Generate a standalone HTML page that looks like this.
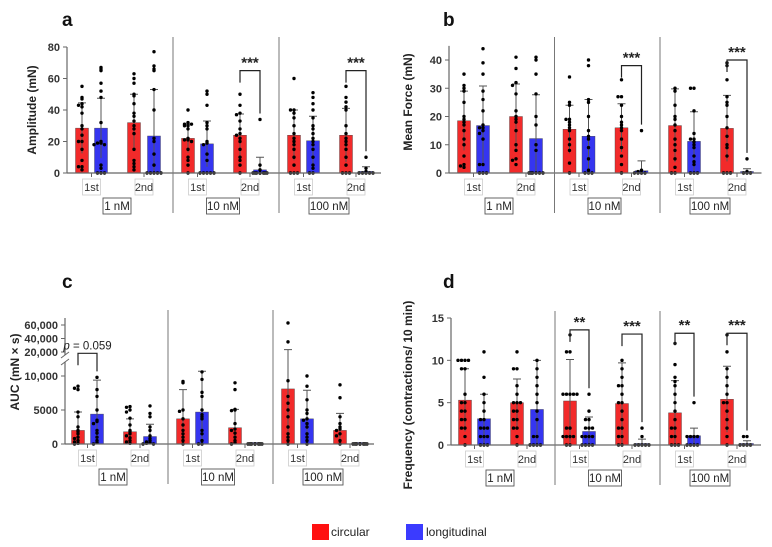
<!DOCTYPE html>
<html><head><meta charset="utf-8"><style>
html,body{margin:0;padding:0;background:#fff;}
svg{display:block;font-family:"Liberation Sans",Arial,sans-serif;}
</style></head><body>
<svg id="fig" width="772" height="547" viewBox="0 0 772 547" xmlns="http://www.w3.org/2000/svg">
<g id="legend">
<rect x="312" y="524" width="17" height="16" fill="#ff1010"/>
<text x="331" y="536" font-size="12" fill="#222">circular</text>
<rect x="406" y="524" width="17" height="16" fill="#3b3bff"/>
<text x="426" y="536" font-size="12" fill="#222">longitudinal</text>
</g>
</svg>
<script>
// ---- data (order: 1nM red1st, blue1st, red2nd, blue2nd, 10nM ..., 100nM ...) ----
const groups = ["1 nM","10 nM","100 nM"];
const sessions = ["1st","2nd"];
const aMeans = [28.5,28.5,32,23.5, 22,18.5,24,2, 24,20.5,24,1];
const aSD = [16,19,18,29.5, 9,14.5,13.5,8, 16,15.5,17,3];
const aPts = [
[55,48,47,44,43,42,38,30,28,24,20,20,15,8,4,4,2],
[67,66,65,57,52,48,32,20,19,19,18,18,5,3,0,0,0],
[63,60,57,50,49,44,38,36,33,30,28,25,15,8,6,4,2],
[77,68,66,65,53,40,22,20,12,5,0,0,0,0,0],
[40,32,31,31,30,30,28,22,21,21,20,15,10,8,5,0],
[52,50,43,32,30,28,20,19,18,12,8,0,0,0,0,0],
[50,43,38,37,33,28,25,24,22,20,15,10,8,5,0],
[34,5,2,0,0,0,0,0,0,0,0],
[60,40,40,38,35,30,25,22,20,18,15,10,5,0,0,0],
[51,48,44,40,35,30,28,25,22,20,18,15,10,5,3,0,0],
[55,48,45,42,40,30,25,22,20,18,15,10,5,0,0,0],
[10,3,1,0,0,0,0,0]];
const bMeans = [18.5,16.8,20,12.2, 15.5,13,16,0.8, 16.8,11.2,15.8,0.3];
const bSD = [10.5,14,11.5,15.5, 8.5,13,8.5,3.5, 13,10.5,11.7,1.2];
const bPts = [
[35,31,30,29,25,20,19,18,17,15,12,10,6,3,2.5,2],
[44,39,35,29,26,22,17,16,16,15,14,12,3,3,0,0,0],
[41,37,32,31,28,22,20,19,18,15,10,8,5,4.5,3],
[41,40,35,28,20,17,10,8,0,0,0,0,0,0],
[34,25,24,19,19,18,17,16,15,12,10,8,3.5,0],
[40,38,26,25,20,15,13,12,9,5,1,0,0,0],
[33,27,27,24,20,18,17,16,15,12,9,6,3,0],
[15,1,0.5,0,0,0,0],
[30,29,24,20,19,17,15,12,10,8,5,2,0,0],
[30,30,22,14,12,12,11,10,9,6,4,3,0,0,0],
[39,38,33,27,25,24,20,16,13,10,9,6,0,0,0],
[5,0.5,0,0,0]];
const cMeans = [2000,4400,1800,1100, 3700,4700,2400,0, 8100,3700,2000,0];
const cSD = [2700,5000,1900,1800, 4300,6000,2700,0, 15400,4200,2500,0];
const cPts = [
[8500,8200,8000,4700,4000,2500,2000,1800,1500,1000,800,500,300,100,0],
[9800,8000,7000,5000,3500,3300,3000,2000,1600,1000,500,200,0],
[5500,5400,5000,4700,3800,2800,2000,1800,1500,1200,900,500,300,100],
[5600,4500,4000,2500,2000,1200,800,500,300,200,100,0,0],
[9200,9000,5000,4800,3700,2800,2000,1500,1000,500,0],
[10600,9500,7600,7000,5000,4300,4000,3700,2000,1500,500,0,0],
[9000,8000,5100,5000,4900,3000,2200,2000,1600,1000,500,200,0],
[0,0,0,0,0,0,0,0],
[63000,35000,9300,7000,6000,5000,4000,2500,1500,1000,500,0],
[10000,8500,6500,5000,4500,3700,3500,3000,2500,1500,1000,500,0],
[8700,6800,4000,3000,2500,2200,2000,1500,1200,500,0],
[0,0,0,0,0,0,0,0]];
const dMeans = [5.3,3.1,5,4.2, 5.2,1.6,4.9,0.1, 3.8,1.1,5.4,0.1];
const dSD = [3.7,2.9,2.8,5.8, 4.9,1.7,4.8,0.6, 3.8,0.9,3.9,0.4];
const dPts = [
[10,10,10,10,9,9,6,5,5,4,4,3,3,2,2,1,0],
[11,8,6,5,4,3,3,2,2,2,1,1,1,0,0,0],
[11,9,9,7,6,5,5,5,4,4,3,3,2,2,1,0],
[10,9,8,7,6,5,4,3,1,1,0,0,0,0],
[13,11,11,6,6,6,6,6,2,2,1,1,1,1,0,0],
[6,4,3,3,2,2,2,1,1,1,1,0,0,0,0],
[10,9,8,7,7,6,5,5,4,3,2,2,1,1,0,0],
[2,1,0,0,0,0,0],
[12,9.5,8,7.5,7,6,5,4,3,2,2,1,1,0,0,0],
[5,1,1,1,1,0,0,0,0],
[13,11,9,8,7,6,5,5,4,3,2,1,0],
[1,1,0,0,0,0]];
const aTicks = [0,20,40,60,80];
const bTicks = [0,10,20,30,40];
const cTicksLow = [0,5000,10000];
const cTicksHigh = [20000,40000,60000];
const cTickLabels = ["0","5000","10,000","20,000","40,000","60,000"];
const dTicks = [0,5,10,15];
// significance: [bar index red, bar index blue, bracket value, label]
const aSig = [[6,7,65,"***"],[10,11,65,"***"]];
const bSig = [[6,7,38,"***"],[10,11,40,"***"]];
const cSig = [[0,1,19000,"p = 0.059"]];
const dSig = [[4,5,13.6,"**"],[6,7,13.1,"***"],[8,9,13.2,"**"],[10,11,13.2,"***"]];

const NS="http://www.w3.org/2000/svg";
const svg=document.getElementById('fig');
function mk(tag,attrs,parent){const e=document.createElementNS(NS,tag);for(const k in attrs)e.setAttribute(k,attrs[k]);(parent||svg).appendChild(e);return e;}
const barOff=[15,34,67,87];
const RED="#f22a2a", BLUE="#3535f0";

function panel(cfg){
  const g=mk('g',{});
  
  
  const Y=cfg.scale, x0=cfg.x0, gw=cfg.gw, base=Y(0);
  const lt=mk('text',{x:cfg.letterX,y:cfg.letterY,'font-size':19,'font-weight':'bold',fill:'#111'},g);
  lt.textContent=cfg.letter;
  
  
  // y title
  const yt=mk('text',{x:0,y:0,'font-size':12,'font-weight':'bold',fill:'#222','text-anchor':'middle',transform:`translate(${cfg.titleX},${cfg.titleY}) rotate(-90)`},g);
  yt.textContent=cfg.title;
  
  
  // bars
  for(let i=0;i<12;i++){
    const gi=Math.floor(i/4), k=i%4;
    const cx=x0+gi*gw+barOff[k];
    const col=(k%2==0)?RED:BLUE;
    const m=cfg.means[i], sd=cfg.sd[i];
    const yT=Y(m);
    const r=mk('rect',{x:cx-6.5,y:Math.min(yT,base-1.5),width:13,height:Math.max(base-yT,1.5),fill:col,stroke:'#444','stroke-width':0.4},g);
    
    
    if(sd>0){
      const yh=Y(m+sd), yl=Y(Math.max(0,m-sd));
      const eb=mk('path',{d:`M${cx},${yl}V${yh}M${cx-4},${yh}H${cx+4}`,stroke:'#555','stroke-width':1,fill:'none'},g);
      
      
    }
    const pts=cfg.pts[i];
    const counts={};
    pts.forEach((v,j)=>{
      const py=Y(v);
      const key=Math.round(py/3);
      const n=counts[key]||0; counts[key]=n+1;
      const off=[0,-3.5,3.5,-7,7,-5,5][n%7];
      const c=mk('circle',{cx:cx+off,cy:py,r:1.7,fill:'#000'},g);
      
      
    });
  }
  // x axis
  const xe=x0+gw*3-4;
  const ax=mk('line',{x1:cfg.axisX,y1:base,x2:xe,y2:base,stroke:'#666','stroke-width':1.2},g);
  
  
  for(let gi=0;gi<3;gi++){
    const gs=x0+gi*gw;
    if(gi>0){
      const s=mk('line',{x1:gs,y1:base-cfg.sepUp,x2:gs,y2:base+40,stroke:'#777','stroke-width':1},g);
      
      
    }
    [24.5,77].forEach((o,si)=>{
      const cx=gs+o;
      mk('line',{x1:cx,y1:base,x2:cx,y2:base+4,stroke:'#666'},g);
      const b=mk('rect',{x:cx-9,y:base+6,width:18,height:16,fill:'#fff',stroke:'#ccc','stroke-width':0.8},g);
      
      
      const t=mk('text',{x:cx,y:base+18,'font-size':11,fill:'#333','text-anchor':'middle'},g);
      t.textContent=sessions[si];
      
      
    });
    const gc=gs+50;
    const w=groups[gi].length>5?40:(groups[gi].length>4?33:28);
    const b2=mk('rect',{x:gc-w/2,y:base+25,width:w,height:16,fill:'#fff',stroke:'#555','stroke-width':0.9},g);
    
    
    const t2=mk('text',{x:gc,y:base+37,'font-size':11.5,fill:'#222','text-anchor':'middle'},g);
    t2.textContent=groups[gi];
    
    
  }
  // y axis
  cfg.yAxis(g);
  // significance
  cfg.sig.forEach(s=>{
    const i1=s[0],i2=s[1];
    const xa=x0+Math.floor(i1/4)*gw+barOff[i1%4], xb=x0+Math.floor(i2/4)*gw+barOff[i2%4];
    const yb=Y(s[2]);
    const maxB=Math.max(...cfg.pts[i2],cfg.means[i2]+cfg.sd[i2]);
    const yr=Y(maxB)-6;
    const p=mk('path',{d:`M${xa},${yb+12}V${yb}H${xb}V${yr}`,stroke:'#222','stroke-width':1.2,fill:'none'},g);
    
    
    const t=mk('text',{x:(xa+xb)/2,y:yb-(s[3].startsWith('p')?4:3),'font-size':s[3].startsWith('p')?11.5:15,'font-weight':s[3].startsWith('p')?'normal':'bold',fill:'#222','text-anchor':'middle'},g);
    if(s[3].startsWith('p')){t.innerHTML='<tspan font-style="italic">p</tspan> = 0.059';}
    else t.textContent=s[3];
    
    
  });
}
function linYAxis(g,Y,ticks,axisX,topV){
  const l=mk('line',{x1:axisX,y1:Y(0),x2:axisX,y2:Y(topV),stroke:'#666','stroke-width':1.2},g);
  
  
  ticks.forEach(v=>{
    mk('line',{x1:axisX-4,y1:Y(v),x2:axisX,y2:Y(v),stroke:'#666'},g);
    const t=mk('text',{x:axisX-7,y:Y(v)+4,'font-size':11,'font-weight':'bold',fill:'#333','text-anchor':'end'},g);
    t.textContent=v;
    
    
  });
}
const Ya=v=>173-v*126/80;
panel({letter:'a',letterX:62,letterY:26,title:'Amplitude (mN)',titleX:36,titleY:110,x0:67,gw:106,axisX:67,scale:Ya,means:aMeans,sd:aSD,pts:aPts,sig:aSig,sepUp:136,
  yAxis:g=>linYAxis(g,Ya,aTicks,67,80)});
const Yb=v=>173-v*113/40;
panel({letter:'b',letterX:443,letterY:26,title:'Mean Force (mN)',titleX:412,titleY:102,x0:449,gw:105.5,axisX:449,scale:Yb,means:bMeans,sd:bSD,pts:bPts,sig:bSig,sepUp:136,
  yAxis:g=>linYAxis(g,Yb,bTicks,449,45)});
const Yc=v=>{
  if(v<=12000) return 444-v*34/5000;
  if(v>=20000) return 352-(v-20000)*13.5/20000;
  return 362.4-(v-12000)*(10.4/8000);
};
panel({letter:'c',letterX:62,letterY:288,title:'AUC (mN × s)',titleX:19,titleY:372,x0:63,gw:105,axisX:65,scale:Yc,means:cMeans,sd:cSD,pts:cPts,sig:cSig,sepUp:134,
  yAxis:g=>{
    const ax=65;
    const l1=mk('line',{x1:ax,y1:444,x2:ax,y2:362,stroke:'#666','stroke-width':1.2},g);
    
    
    const l2=mk('line',{x1:ax,y1:355,x2:ax,y2:318,stroke:'#666','stroke-width':1.2},g);
    
    
    mk('path',{d:`M${ax-4},${358}L${ax+4},${352}M${ax-4},${365}L${ax+4},${359}`,stroke:'#666',fill:'none'},g);
    const all=cTicksLow.concat(cTicksHigh);
    all.forEach((v,i)=>{
      mk('line',{x1:ax-4,y1:Yc(v),x2:ax,y2:Yc(v),stroke:'#666'},g);
      const t=mk('text',{x:ax-7,y:Yc(v)+4,'font-size':11,'font-weight':'bold',fill:'#333','text-anchor':'end'},g);
      t.textContent=cTickLabels[i];
      
      
    });
  }});
const Yd=v=>445-v*127/15;
panel({letter:'d',letterX:443,letterY:288,title:'Frequency (contractions/ 10 min)',titleX:412,titleY:395,x0:450,gw:105,axisX:451,scale:Yd,means:dMeans,sd:dSD,pts:dPts,sig:dSig,sepUp:134,
  yAxis:g=>linYAxis(g,Yd,dTicks,451,15)});
</script>
</body></html>
